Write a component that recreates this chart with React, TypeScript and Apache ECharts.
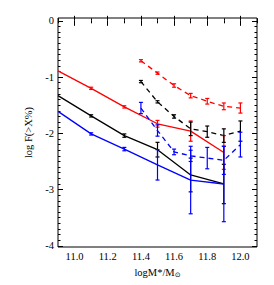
import React, { useEffect, useRef } from "react";
import * as echarts from "echarts";

const xSolid = [10.9, 11.1, 11.3, 11.5, 11.7, 11.9];
const redSolid = [-0.89, -1.2, -1.53, -1.83, -1.96, -2.34];
const redSolidErr = [0, 0.02, 0.02, 0.06, 0.18, 0.3];
const blackSolid = [-1.33, -1.69, -2.04, -2.29, -2.74, -2.9];
const blackSolidErr = [0, 0.02, 0.03, 0.13, 0.3, 0.35];
const blueSolid = [-1.61, -2.01, -2.28, -2.56, -2.83, -2.9];
const blueSolidErr = [0, 0.02, 0.03, 0.27, 0.6, 0.67];

const xDashed = [11.4, 11.5, 11.6, 11.7, 11.8, 11.9, 12.0];
const redDashed = [-0.71, -0.93, -1.15, -1.33, -1.43, -1.52, -1.55];
const redDashedErr = [0.02, 0.02, 0.03, 0.04, 0.05, 0.06, 0.09];
const blackDashed = [-1.08, -1.44, -1.7, -1.92, -1.97, -2.04, -1.96];
const blackDashedErr = [0.02, 0.02, 0.03, 0.12, 0.1, 0.12, 0.18];
const blueDashed = [-1.55, -1.95, -2.33, -2.4, -2.44, -2.48, -2.2];
const blueDashedErr = [0.1, 0.1, 0.05, 0.1, 0.19, 0.25, 0.22];

const xTickLabels = [11.0, 11.2, 11.4, 11.6, 11.8, 12.0];
const yTickLabels = [0, -1, -2, -3, -4];

const RED = "#ff0000";
const BLACK = "#000000";
const BLUE = "#0000ff";
const FONT = "Liberation Serif";

const X_MIN = 10.9;
const X_MAX = 12.1;
const Y_MIN = -4.02;
const Y_MAX = 0.05;

function range(a: number, b: number, step: number): number[] {
  const out: number[] = [];
  const n = Math.round((b - a) / step);
  for (let i = 0; i <= n; i++) out.push(Math.round((a + i * step) * 100) / 100);
  return out;
}

const xMinor = range(10.9, 12.1, 0.1).filter((v) => !xTickLabels.some((m) => Math.abs(m - v) < 1e-6));
const yMinor = range(-4, 0, 0.1).filter((v) => !yTickLabels.some((m) => Math.abs(m - v) < 1e-6));

function lineSeries(xs: number[], ys: number[], color: string, dashed: boolean) {
  return {
    type: "line",
    data: xs.map((x, i) => [x, ys[i]]),
    showSymbol: false,
    symbol: "none",
    lineStyle: { color, width: 1.3, type: dashed ? [5, 4] : "solid" },
    xAxisIndex: 0,
    yAxisIndex: 0,
    z: 2,
  };
}

function errSeries(xs: number[], ys: number[], es: number[], color: string) {
  return {
    type: "custom",
    xAxisIndex: 0,
    yAxisIndex: 0,
    z: 3,
    data: xs.map((x, i) => [x, ys[i], es[i]]),
    renderItem: (_params: any, api: any) => {
      const x = api.value(0);
      const y = api.value(1);
      const e = api.value(2);
      if (!e) return { type: "group", children: [] };
      const top = api.coord([x, y + e]);
      const bot = api.coord([x, y - e]);
      const w = 2;
      const style = { stroke: color, lineWidth: 1.2 };
      return {
        type: "group",
        children: [
          { type: "line", shape: { x1: top[0], y1: top[1], x2: bot[0], y2: bot[1] }, style },
          { type: "line", shape: { x1: top[0] - w, y1: top[1], x2: top[0] + w, y2: top[1] }, style },
          { type: "line", shape: { x1: bot[0] - w, y1: bot[1], x2: bot[0] + w, y2: bot[1] }, style },
        ],
      };
    },
  };
}

export default function App() {
  const ref = useRef<HTMLDivElement>(null);
  useEffect(() => {
    if (!ref.current) return;
    const chart = echarts.init(ref.current, null, { renderer: "svg" });
    const baseX = (position: "bottom" | "top", major: boolean, labels: boolean, name?: boolean) => ({
      type: "value",
      position,
      min: X_MIN,
      max: X_MAX,
      axisLine: { show: false },
      splitLine: { show: false },
      axisTick: {
        show: true,
        inside: true,
        length: major ? 5 : 2.5,
        customValues: major ? xTickLabels : xMinor,
        lineStyle: { color: BLACK, width: 1 },
      },
      axisLabel: labels
        ? {
            show: true,
            customValues: xTickLabels,
            formatter: (v: number) => v.toFixed(1),
            fontFamily: FONT,
            fontSize: 10.5,
            color: BLACK,
            margin: 4,
          }
        : { show: false },
      ...(name
        ? {
            name: "logM*/M{s|⊙}",
            nameLocation: "middle",
            nameGap: 16,
            nameTextStyle: {
              fontFamily: FONT,
              fontSize: 10.5,
              color: BLACK,
              rich: { s: { fontFamily: "DejaVu Sans", fontSize: 7, color: BLACK, verticalAlign: "bottom", padding: [5, 0, 0, 0] } },
            },
          }
        : {}),
    });
    const baseY = (position: "left" | "right", major: boolean, labels: boolean, name?: boolean) => ({
      type: "value",
      position,
      min: Y_MIN,
      max: Y_MAX,
      axisLine: { show: false },
      splitLine: { show: false },
      axisTick: {
        show: true,
        inside: true,
        length: major ? 5 : 2.5,
        customValues: major ? yTickLabels : yMinor,
        lineStyle: { color: BLACK, width: 1 },
      },
      axisLabel: labels
        ? {
            show: true,
            customValues: yTickLabels,
            formatter: (v: number) => String(Math.round(v)),
            fontFamily: FONT,
            fontSize: 10.5,
            color: BLACK,
            margin: 4,
          }
        : { show: false },
      ...(name
        ? {
            name: "log F(>X%)",
            nameLocation: "middle",
            nameGap: 20,
            nameTextStyle: { fontFamily: FONT, fontSize: 10.5, color: BLACK },
          }
        : {}),
    });
    chart.setOption({
      animation: false,
      backgroundColor: "#ffffff",
      grid: {
        left: 58,
        top: 18,
        width: 199,
        height: 229,
        show: true,
        borderColor: BLACK,
        borderWidth: 1,
        backgroundColor: "transparent",
      },
      xAxis: [
        baseX("bottom", true, true, true),
        baseX("bottom", false, false),
        baseX("top", true, false),
        baseX("top", false, false),
      ],
      yAxis: [
        baseY("left", true, true, true),
        baseY("left", false, false),
        baseY("right", true, false),
        baseY("right", false, false),
      ],
      series: [
        lineSeries(xSolid, redSolid, RED, false),
        lineSeries(xDashed, redDashed, RED, true),
        lineSeries(xSolid, blackSolid, BLACK, false),
        lineSeries(xDashed, blackDashed, BLACK, true),
        lineSeries(xSolid, blueSolid, BLUE, false),
        lineSeries(xDashed, blueDashed, BLUE, true),
        errSeries(xSolid, redSolid, redSolidErr, RED),
        errSeries(xDashed, redDashed, redDashedErr, RED),
        errSeries(xSolid, blackSolid, blackSolidErr, BLACK),
        errSeries(xDashed, blackDashed, blackDashedErr, BLACK),
        errSeries(xSolid, blueSolid, blueSolidErr, BLUE),
        errSeries(xDashed, blueDashed, blueDashedErr, BLUE),
      ],
    });
    return () => chart.dispose();
  }, []);
  return (
    <div
      ref={ref}
      style={{ position: "absolute", left: 0, top: 0, width: 274, height: 285, background: "#fff" }}
    />
  );
}
